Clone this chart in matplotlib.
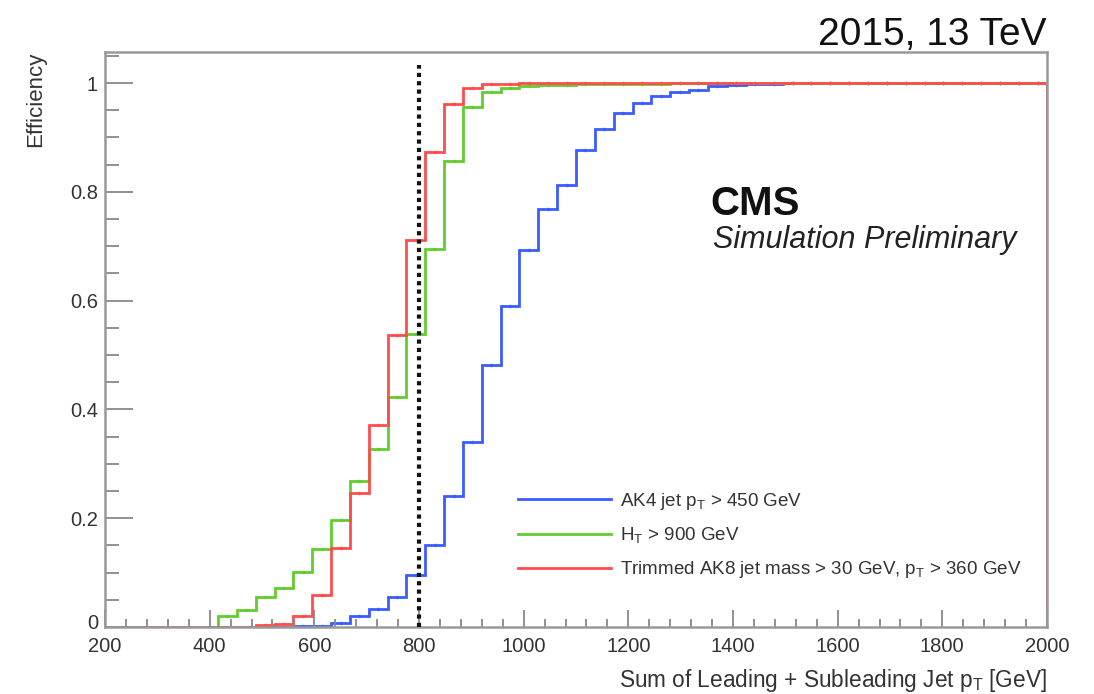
import numpy as np
import matplotlib
matplotlib.use("Agg")
import matplotlib.pyplot as plt
from matplotlib.ticker import MultipleLocator, FuncFormatter
from matplotlib.transforms import ScaledTranslation

plt.rcParams['font.family'] = ['Liberation Sans', 'DejaVu Sans']

# bin edges: 50 bins of 36 GeV from 200 to 2000
bin_edges = np.linspace(200, 2000, 51)

ak4_pt450 = [0, 0, 0, 0, 0, 0, 0, 0, 0, 0,
             0.001, 0.002, 0.007, 0.020, 0.034, 0.055, 0.096, 0.150, 0.240, 0.341,
             0.481, 0.591, 0.693, 0.768, 0.812, 0.877, 0.916, 0.945, 0.964, 0.976,
             0.984, 0.987, 0.995, 0.997, 0.998, 0.999, 1.0, 1.0, 1.0, 1.0,
             1.0, 1.0, 1.0, 1.0, 1.0, 1.0, 1.0, 1.0, 1.0, 1.0]

ht900 = [0, 0, 0, 0, 0, 0, 0.020, 0.031, 0.055, 0.072,
         0.102, 0.143, 0.196, 0.268, 0.328, 0.422, 0.538, 0.695, 0.857, 0.956,
         0.983, 0.991, 0.994, 0.996, 0.997, 0.998, 0.998, 0.999, 0.999, 0.999,
         1.0, 1.0, 1.0, 1.0, 1.0, 1.0, 1.0, 1.0, 1.0, 1.0,
         1.0, 1.0, 1.0, 1.0, 1.0, 1.0, 1.0, 1.0, 1.0, 1.0]

trim_ak8 = [0, 0, 0, 0, 0, 0, 0, 0, 0.003, 0.005,
            0.020, 0.058, 0.145, 0.247, 0.372, 0.536, 0.712, 0.874, 0.961, 0.991,
            0.998, 0.999, 1.0, 1.0, 1.0, 1.0, 1.0, 1.0, 1.0, 1.0,
            1.0, 1.0, 1.0, 1.0, 1.0, 1.0, 1.0, 1.0, 1.0, 1.0,
            1.0, 1.0, 1.0, 1.0, 1.0, 1.0, 1.0, 1.0, 1.0, 1.0]

labels = [r"AK4 jet p$_{\mathregular{T}}$ > 450 GeV",
          r"H$_{\mathregular{T}}$ > 900 GeV",
          r"Trimmed AK8 jet mass > 30 GeV, p$_{\mathregular{T}}$ > 360 GeV"]
colors = ["#3a5cff", "#62cc2e", "#ff4d4d"]
cut_value = 800

fig = plt.figure(figsize=(10.94, 6.94), dpi=100)
ax = fig.add_axes([0.096, 0.0965, 0.861, 0.8285])

centers = 0.5 * (bin_edges[:-1] + bin_edges[1:])
handles = []
for vals, lab, col in zip([ak4_pt450, ht900, trim_ak8], labels, colors):
    v = np.array(vals)
    ax.stairs(v, bin_edges, color=col, lw=2.0, label=lab)
    m = v > 0
    ax.plot(centers[m], v[m], '.', color=col, ms=3)
    handles.append(plt.Line2D([], [], color=col, lw=2.0))

ax.plot([cut_value, cut_value], [0, 1.033], color='#111111', lw=3,
        linestyle=(0, (1, 1)), zorder=5)

ax.set_xlim(200, 2000)
ax.set_ylim(0, 1.057)

ax.xaxis.set_major_locator(MultipleLocator(200))
ax.xaxis.set_minor_locator(MultipleLocator(40))
ax.yaxis.set_major_locator(MultipleLocator(0.2))
ax.yaxis.set_minor_locator(MultipleLocator(0.05))
ax.yaxis.set_major_formatter(FuncFormatter(lambda v, p: "%g" % round(v, 2)))

ax.tick_params(axis='both', which='both', direction='in', colors='#888888',
               labelcolor='#333333', width=1.3)
ax.tick_params(axis='x', which='major', length=12, labelsize=14.5, pad=7)
ax.tick_params(axis='x', which='minor', length=6)
ax.tick_params(axis='y', which='major', length=20, labelsize=14.5, pad=5)
ax.tick_params(axis='y', which='minor', length=10)
for s in ax.spines.values():
    s.set_color('#999999')
    s.set_linewidth(1.8)

# lift the "0" label on the y axis a little so it sits just above "200"
fig.canvas.draw()
for tick in ax.yaxis.get_major_ticks():
    if abs(tick.get_loc()) < 1e-9:
        lbl = tick.label1
        lbl.set_transform(lbl.get_transform() +
                          ScaledTranslation(0, 4 / 72, fig.dpi_scale_trans))

ax.set_ylabel("Efficiency", fontsize=16, color='#333333', loc='top', labelpad=17)
ax.set_xlabel(r"Sum of Leading + Subleading Jet p$_{\mathregular{T}}$ [GeV]",
              fontsize=16.3, color='#333333', loc='right', labelpad=8)

ax.legend(handles, labels, loc='upper left', bbox_to_anchor=(0.42, 0.266),
          frameon=False, fontsize=13.5, handlelength=5.0, handletextpad=0.45,
          labelspacing=0.72, labelcolor='#333333')

fig.text(0.957, 0.924, "2015, 13 TeV", fontsize=28, ha='right', va='bottom',
         color='#111111')
ax.text(0.643, 0.716, "CMS", transform=ax.transAxes, fontsize=29,
        fontweight='bold', color='#111111')
ax.text(0.645, 0.66, "Simulation Preliminary", transform=ax.transAxes,
        fontsize=22, style='italic', color='#222222')

fig.savefig("out.png", dpi=100)
